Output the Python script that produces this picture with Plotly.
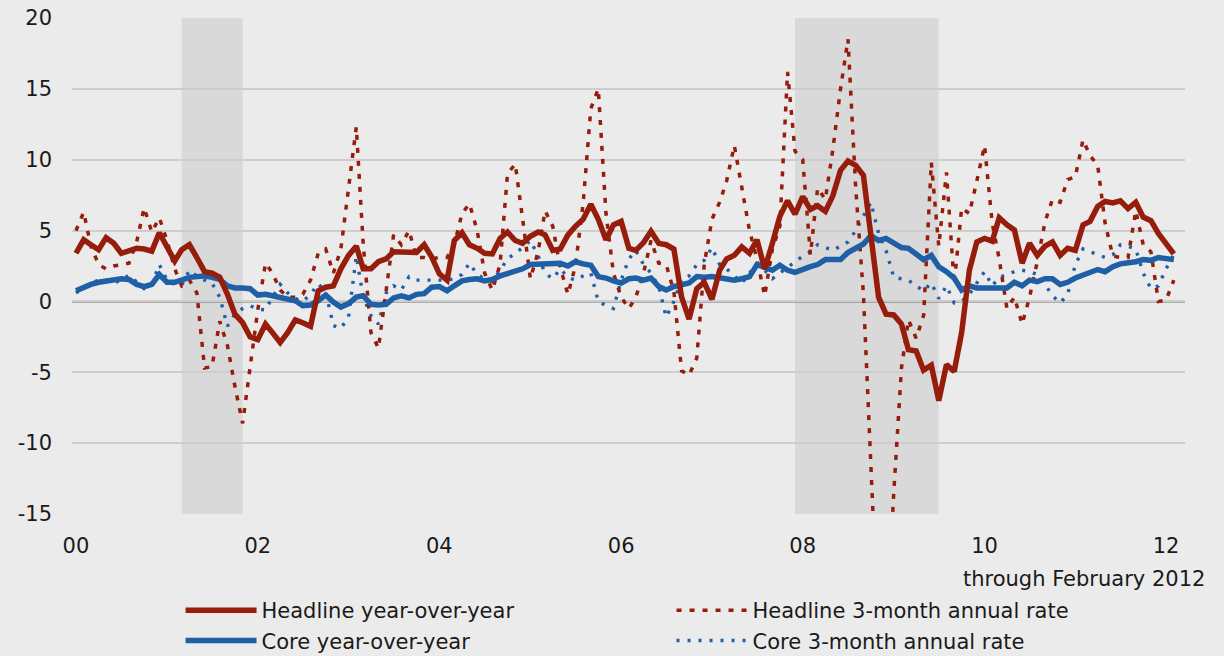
import pandas as pd
import plotly.graph_objects as go

# ---------------- data (monthly, Jan 2000 - Feb 2012) ----------------
months = pd.date_range("2000-01-01", periods=146, freq="MS")

headline_yoy = [
    3.4, 4.35, 4.0, 3.65, 4.5, 4.1, 3.4, 3.55, 3.75, 3.7, 3.55, 4.85,      # 2000
    3.9, 2.85, 3.65, 4.0, 3.1, 2.1, 2.0, 1.7, 0.5, -0.9, -1.5, -2.5,        # 2001
    -2.7, -1.6, -2.2, -2.9, -2.2, -1.3, -1.5, -1.75, 0.75, 1.0, 1.1, 2.3,   # 2002
    3.25, 3.9, 2.3, 2.3, 2.8, 3.0, 3.5, 3.5, 3.5, 3.45, 4.0, 3.15,          # 2003
    1.95, 1.5, 4.3, 4.85, 4.0, 3.75, 3.4, 3.35, 4.45, 4.9, 4.3, 4.1,        # 2004
    4.6, 4.9, 4.7, 3.6, 3.7, 4.7, 5.3, 5.8, 6.85, 5.8, 4.35, 5.4,           # 2005
    5.65, 3.75, 3.6, 4.15, 4.95, 4.1, 4.0, 3.7, 0.3, -1.25, 0.9, 1.35,      # 2006
    0.15, 2.2, 3.0, 3.25, 3.85, 3.4, 4.35, 2.3, 4.1, 6.0, 7.1, 6.15,        # 2007
    7.4, 6.5, 6.75, 6.35, 7.45, 9.25, 9.9, 9.6, 8.9, 4.5, 0.3, -0.9,        # 2008
    -0.95, -1.6, -3.4, -3.5, -4.85, -4.5, -7.0, -4.45, -4.95, -2.2, 2.2, 4.2,  # 2009
    4.45, 4.25, 5.9, 5.4, 5.05, 2.7, 4.1, 3.25, 3.9, 4.2, 3.25, 3.75,       # 2010
    3.6, 5.4, 5.65, 6.7, 7.05, 6.95, 7.1, 6.55, 7.0, 5.95, 5.7, 4.8,        # 2011
    4.1, 3.35,                                                              # 2012
]

core_yoy = [
    0.75, 1.0, 1.2, 1.35, 1.45, 1.5, 1.6, 1.55, 1.2, 1.05, 1.2, 1.9,
    1.35, 1.35, 1.5, 1.7, 1.75, 1.8, 1.7, 1.55, 1.1, 0.95, 0.95, 0.9,
    0.45, 0.5, 0.4, 0.3, 0.2, 0.05, -0.3, -0.25, 0.05, 0.45, -0.05, -0.4,
    -0.15, 0.3, 0.4, -0.2, -0.25, -0.2, 0.25, 0.4, 0.25, 0.5, 0.55, 1.0,
    1.05, 0.75, 1.1, 1.45, 1.55, 1.6, 1.45, 1.55, 1.8, 1.95, 2.05, 2.3,
    2.6, 2.65, 2.65, 2.65, 2.7, 2.5, 2.8, 2.65, 2.55, 1.75, 1.65, 1.45,
    1.3, 1.6, 1.65, 1.5, 1.65, 1.05, 0.8, 1.05, 1.15, 1.3, 1.75, 1.7,
    1.75, 1.65, 1.55, 1.5, 1.6, 1.75, 2.6, 2.4, 2.2, 2.55, 2.2, 2.05,
    2.3, 2.45, 2.6, 2.95, 2.95, 2.95, 3.45, 3.7, 4.05, 4.65, 4.3, 4.45,
    4.1, 3.8, 3.75, 3.35, 2.95, 3.25, 2.45, 2.1, 1.65, 0.8, 1.1, 0.95,
    0.95, 0.95, 0.95, 0.95, 1.35, 1.1, 1.5, 1.4, 1.6, 1.6, 1.2, 1.35,
    1.65, 1.85, 2.0, 2.25, 2.1, 2.45, 2.65, 2.7, 2.8, 2.95, 2.9, 3.1,
    3.05, 2.95,
]

headline_3m = [
    5.0, 6.3, 3.9, 2.6, 2.3, 2.5, 2.6, 2.7, 4.2, 6.6, 4.9, 5.9,
    4.3, 2.3, 1.1, 1.5, 0.6, -4.7, -4.6, -1.4, -3.1, -6.0, -8.6, -4.5,
    -0.6, 2.7, 2.0, 0.8, 0.3, 0.3, 0.5, 1.5, 3.4, 3.7, 2.0, 3.7,
    7.9, 12.3, 4.0, -2.2, -3.3, 1.0, 4.7, 4.0, 5.0, 3.1, 3.1, 3.0,
    3.1, 3.1, 4.0, 6.2, 6.9, 5.0, 2.0, 0.8, 2.6, 9.0, 9.7, 5.8,
    1.6, 3.5, 6.4, 5.3, 2.4, 0.5, 2.5, 6.9, 13.6, 15.0, 6.2, 2.0,
    0.3, -0.5, 0.3, 2.0, 4.3, 2.7, 2.6, 0.7, -4.9, -5.2, -4.0, 2.6,
    5.8, 7.0, 8.5, 11.0, 8.0, 5.0, 3.0, 0.4, 3.7, 5.3, 16.2, 10.6,
    10.0, 3.3, 8.0, 7.2, 10.7, 15.0, 18.5, 8.0, 0.5, -13.0, -24.0, -24.0,
    -13.5, -4.7, -1.3, -2.6, -1.0, 9.8, 3.9, 9.1, 1.2, 6.6, 6.2, 8.5,
    11.0, 5.5, 3.0, -0.5, 0.3, -1.6, 0.3, 2.8, 5.6, 7.2, 7.0, 8.6,
    8.8, 11.4, 10.3, 9.6, 5.5, 3.2, 3.1, 3.1, 6.4, 4.0, 3.5, 0.0,
    0.1, 1.5,
]

core_3m = [
    0.6, 1.0, 1.3, 1.5, 1.5, 1.3, 1.5, 1.85, 1.4, 0.9, 1.2, 2.6,
    1.5, 1.2, 1.15, 2.2, 1.8, 1.5, 1.3, 0.3, -1.75, -0.9, -0.5, -0.3,
    -0.55, -0.6, 0.3, 1.2, 0.6, 0.2, 0.0, 0.5, 1.25, 0.65, -1.7, -1.9,
    -1.1, 3.2, 0.3, -1.0, -1.6, 0.6, 1.1, 0.8, 1.75, 1.5, 1.5, 1.5,
    1.5, 1.5, 1.6, 1.9, 2.7, 1.9, 1.6, 1.4, 2.2, 3.0, 3.4, 3.8,
    4.3, 3.2, 2.0, 1.6, 2.3, 1.7, 1.5, 1.8, 2.0, 0.0, -0.3, -0.5,
    1.5, 3.0, 3.6, 2.6, 2.0, 1.05, -1.1, 0.0, 1.6, 1.8, 2.6, 2.9,
    3.8, 2.6, 2.3, 1.8, 1.3, 2.0, 2.65, 2.2, 1.6, 2.0, 2.4, 2.8,
    3.2, 3.5, 4.0, 3.8, 3.6, 3.9, 4.2, 5.0, 6.0, 7.0, 4.8, 3.6,
    1.7, 1.6, 1.5, 1.1, 0.75, 1.3, 0.2, 1.1, -0.1, 0.0, 0.5, 1.3,
    2.1, 1.1, 1.7, 1.9, 2.1, 2.2, 2.1, 1.9, 1.2, 0.4, -0.1, 0.5,
    2.6, 3.7, 3.5, 3.3, 3.1, 3.3, 4.0, 3.9, 3.7, 2.0, 0.9, 1.1,
    2.3, 3.3,
]

recessions = [("2001-03-01", "2001-11-01"), ("2007-12-01", "2009-06-30")]

series_names = ["Headline year-over-year", "Headline 3-month annual rate",
                "Core year-over-year", "Core 3-month annual rate"]
y_ticks = [20, 15, 10, 5, 0, -5, -10, -15]
note_text = "through February 2012"

# ---------------- styling ----------------
RED = "#961c0b"
BLUE = "#1e5fa5"
FONT = "DejaVu Sans"
TXT = "#1a1a1a"

fig = go.Figure()

# drawing order (bottom -> top): core 3m, headline 3m, core yoy, headline yoy
fig.add_trace(go.Scatter(x=months, y=core_3m, mode="lines", name=series_names[3],
                         line=dict(color=BLUE, width=3.4, dash="3px,8px"), legendrank=4))
fig.add_trace(go.Scatter(x=months, y=headline_3m, mode="lines", name=series_names[1],
                         line=dict(color=RED, width=3.5, dash="5px,8px"), legendrank=2))
fig.add_trace(go.Scatter(x=months, y=core_yoy, mode="lines", name=series_names[2],
                         line=dict(color=BLUE, width=5.5), legendrank=3))
fig.add_trace(go.Scatter(x=months, y=headline_yoy, mode="lines", name=series_names[0],
                         line=dict(color=RED, width=5.5), legendrank=1))

shapes = []
for s, e in recessions:
    shapes.append(dict(type="rect", xref="x", yref="paper", x0=s, x1=e, y0=0, y1=1,
                       fillcolor="#d9d9d9", line=dict(width=0), layer="between"))
shapes.append(dict(type="line", xref="paper", yref="y", x0=0, x1=1, y0=0, y1=0,
                   line=dict(color="#707070", width=2), layer="between"))

fig.update_layout(
    width=1224, height=656,
    margin=dict(l=72, r=39, t=18, b=142, autoexpand=False),
    paper_bgcolor="#ebebeb",
    plot_bgcolor="rgba(0,0,0,0)",
    font=dict(family=FONT, size=21, color=TXT),
    shapes=shapes,
    showlegend=True,
    legend=dict(
        orientation="h",
        xref="container", yref="container",
        x=0.1475, xanchor="left",
        y=0.1006, yanchor="top",
        bgcolor="rgba(0,0,0,0)",
        itemwidth=71,
        entrywidth=405,
        entrywidthmode="pixels",
        font=dict(family=FONT, size=21, color=TXT),
        traceorder="normal",
        tracegroupgap=0,
    ),
    annotations=[dict(
        text=note_text, xref="paper", yref="paper",
        x=1.0195, y=-0.1304, xanchor="right", yanchor="middle",
        showarrow=False, font=dict(family=FONT, size=21, color=TXT),
    )],
)

fig.update_xaxes(
    type="date",
    range=["1999-12-16", "2012-03-17"],
    tick0="2000-01-01", dtick="M24", tickformat="%y",
    showgrid=False, zeroline=False, showline=False, automargin=False,
    ticks="", ticklabelstandoff=17,
    tickfont=dict(family=FONT, size=21, color=TXT),
)
fig.update_yaxes(
    range=[-15, 20],
    tickvals=y_ticks, ticktext=[str(v) for v in y_ticks],
    showgrid=True, gridcolor="#cdcdcd", gridwidth=1.5,
    zeroline=False, showline=False, automargin=False,
    ticks="", ticklabelstandoff=19,
    tickfont=dict(family=FONT, size=21, color=TXT),
)

fig.write_html("out.html")
